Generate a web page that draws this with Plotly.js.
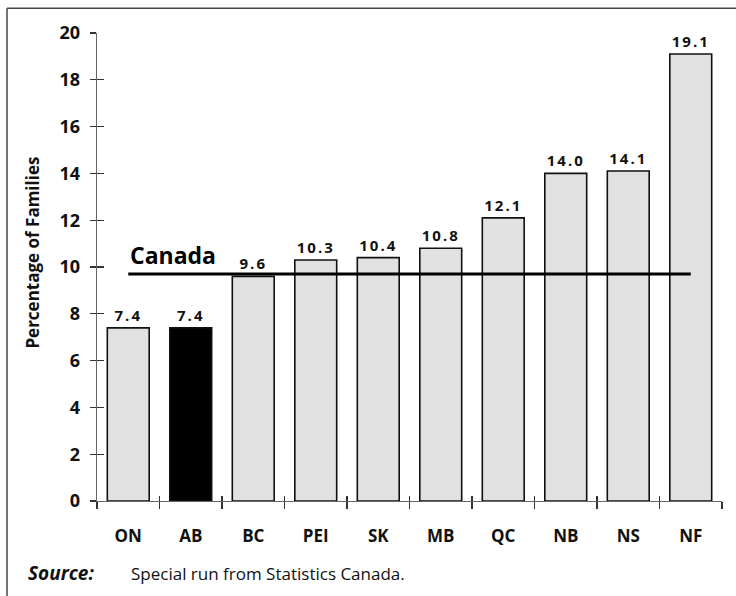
<!DOCTYPE html>
<html>
<head>
<meta charset="utf-8">
<script src="https://cdn.plot.ly/plotly-3.0.1.min.js"></script>
<style>
  html, body { margin: 0; padding: 0; background: #fff; }
  #chart { width: 736px; height: 596px; }
  text.bartext { letter-spacing: 2px; }
</style>
</head>
<body>
<div id="chart"></div>
<script>
// Low-income families by province (% of families)
const provinces = ['ON', 'AB', 'BC', 'PEI', 'SK', 'MB', 'QC', 'NB', 'NS', 'NF'];
const percentages = [7.4, 7.4, 9.6, 10.3, 10.4, 10.8, 12.1, 14.0, 14.1, 19.1];
const highlighted = 'AB';
const canadaAvg = 9.7;
const yTicks = [0, 2, 4, 6, 8, 10, 12, 14, 16, 18, 20];

const FONT = '"Open Sans", "DejaVu Sans", sans-serif';
const barFill = provinces.map(p => p === highlighted ? '#000000' : '#e1e1e1');

const bars = {
  type: 'bar',
  x: provinces,
  y: percentages,
  marker: { color: barFill, line: { color: '#111', width: 1.6 } },
  texttemplate: '%{y:.1f}',
  textposition: 'outside',
  textfont: { family: FONT, size: 15, weight: 700, color: '#111' },
  cliponaxis: false,
  hoverinfo: 'skip'
};

// companion trace carrying the inner half of the crossing tick marks
const ghost = {
  type: 'scatter',
  x: provinces,
  y: percentages,
  mode: 'none',
  xaxis: 'x2',
  yaxis: 'y2',
  hoverinfo: 'skip',
  showlegend: false
};

const layout = {
  width: 736,
  height: 596,
  margin: { l: 97, r: 14, t: 33, b: 95 },
  paper_bgcolor: '#ffffff',
  plot_bgcolor: '#ffffff',
  showlegend: false,
  bargap: 0.33,
  font: { family: FONT, color: '#111' },
  xaxis: {
    type: 'category',
    categoryorder: 'array',
    categoryarray: provinces,
    tickson: 'boundaries',
    ticks: 'outside',
    ticklen: 7,
    tickwidth: 1.2,
    tickcolor: '#333',
    showline: true,
    linecolor: '#666',
    linewidth: 1.4,
    showgrid: false,
    zeroline: false,
    ticklabelstandoff: 19,
    tickfont: { family: FONT, size: 17, weight: 700, color: '#111' }
  },
  yaxis: {
    range: [0, 20],
    tickvals: yTicks,
    ticks: 'outside',
    ticklen: 6,
    tickwidth: 1.2,
    tickcolor: '#333',
    showline: true,
    linecolor: '#666',
    linewidth: 1.4,
    showgrid: false,
    zeroline: false,
    ticklabelstandoff: 6,
    tickfont: { family: FONT, size: 18, weight: 700, color: '#111' }
  },
  xaxis2: {
    type: 'category',
    categoryorder: 'array',
    categoryarray: provinces,
    matches: 'x',
    overlaying: 'x',
    anchor: 'y2',
    side: 'bottom',
    tickson: 'boundaries',
    ticks: 'inside',
    ticklen: 5,
    tickwidth: 1.2,
    tickcolor: '#333',
    showticklabels: false,
    showline: false,
    showgrid: false,
    zeroline: false
  },
  yaxis2: {
    range: [0, 20],
    tickvals: yTicks,
    matches: 'y',
    overlaying: 'y',
    anchor: 'x2',
    side: 'left',
    ticks: 'inside',
    ticklen: 7,
    tickwidth: 1.2,
    tickcolor: '#333',
    showticklabels: false,
    showline: false,
    showgrid: false,
    zeroline: false
  },
  shapes: [
    // national average line
    {
      type: 'line', xref: 'x', yref: 'y',
      x0: provinces[0], x1: provinces[provinces.length - 1],
      y0: canadaAvg, y1: canadaAvg,
      line: { color: '#000', width: 3 }
    },
    // page frame (left and top edges)
    {
      type: 'line', xref: 'paper', yref: 'paper',
      x0: -0.1440, x1: -0.1440, y0: 1.053, y1: -0.21,
      line: { color: '#444', width: 1.5 }
    },
    {
      type: 'line', xref: 'paper', yref: 'paper',
      x0: -0.1440, x1: 1.03, y0: 1.053, y1: 1.053,
      line: { color: '#444', width: 1.5 }
    }
  ],
  annotations: [
    {
      text: 'Canada', xref: 'x', yref: 'y',
      x: provinces[0], y: canadaAvg,
      xanchor: 'left', yanchor: 'bottom',
      xshift: 0, yshift: 1,
      showarrow: false,
      font: { family: FONT, size: 23, weight: 700, color: '#000' }
    },
    {
      text: 'Percentage of Families', xref: 'paper', yref: 'paper',
      x: -0.103, y: 0.53, textangle: -90,
      xanchor: 'center', yanchor: 'middle',
      showarrow: false,
      font: { family: FONT, size: 17, weight: 700, color: '#111' }
    },
    {
      text: '<b><i>Source:</i></b>', xref: 'paper', yref: 'paper',
      x: -0.114, y: -0.154, xanchor: 'left', yanchor: 'middle',
      showarrow: false,
      font: { family: FONT, size: 19, color: '#111' }
    },
    {
      text: 'Special run from Statistics Canada.', xref: 'paper', yref: 'paper',
      x: 0.0512, y: -0.154, xanchor: 'left', yanchor: 'middle',
      showarrow: false,
      font: { family: FONT, size: 17, color: '#111' }
    }
  ]
};

Plotly.newPlot('chart', [bars, ghost], layout, { displayModeBar: false, staticPlot: true });
</script>
</body>
</html>
